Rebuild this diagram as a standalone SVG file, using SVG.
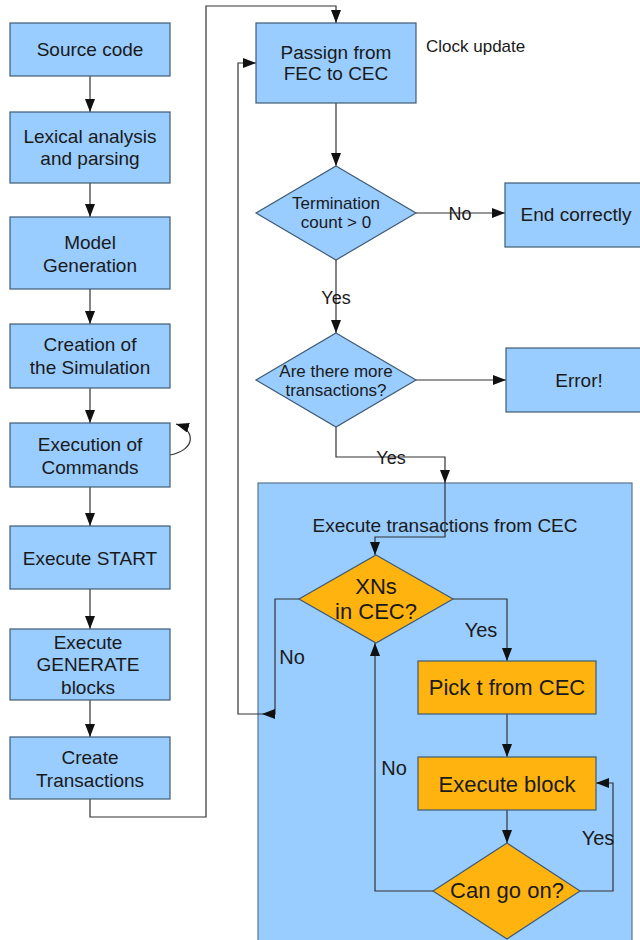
<svg xmlns="http://www.w3.org/2000/svg" width="640" height="940" viewBox="0 0 640 940">
<defs>
<marker id="arr" markerUnits="userSpaceOnUse" markerWidth="14" markerHeight="10" refX="13" refY="5" orient="auto">
<path d="M0,0 L13,5 L0,10 z" fill="#111"/>
</marker>
<style>
.b{fill:#99ccff;stroke:#3e5a74;stroke-width:1.2}
.o{fill:#ffb30f;stroke:#3e5a74;stroke-width:1.2}
.t{font-family:"Liberation Sans",Arial,sans-serif;font-size:19px;fill:#1a1a1a;text-anchor:middle}
.s{font-size:17px}
.m{font-size:17px}
.l{font-size:18px}
.k{font-size:20px}
.g{font-size:22px}
.c{fill:none;stroke:#333;stroke-width:1.2}
.a{marker-end:url(#arr)}
</style>
</defs>
<rect x="0" y="0" width="640" height="940" fill="#fff"/>
<g id="cec-region">
<rect x="258" y="483" width="374" height="470" fill="#99ccff" stroke="#5a7590" stroke-width="1.2"/>
<text class="t" x="445" y="532">Execute transactions from CEC</text>
</g>
<g id="connectors">
<line class="c a" x1="90" y1="76" x2="90" y2="112"/>
<line class="c a" x1="90" y1="183" x2="90" y2="217"/>
<line class="c a" x1="90" y1="289" x2="90" y2="324"/>
<line class="c a" x1="90" y1="388" x2="90" y2="423"/>
<line class="c a" x1="90" y1="487" x2="90" y2="526"/>
<line class="c a" x1="90" y1="589" x2="90" y2="629"/>
<line class="c a" x1="90" y1="700" x2="90" y2="737"/>
<polyline class="c a" points="90,799 90,817 206,817 206,6 336,6 336,23"/>
<path class="c a" d="M170,455 C196,450 196,430 176,424"/>
<line class="c a" x1="336" y1="103" x2="336" y2="166"/>
<line class="c a" x1="416" y1="213" x2="505" y2="213"/>
<line class="c a" x1="336" y1="260" x2="336" y2="333"/>
<line class="c a" x1="416" y1="380" x2="506" y2="380"/>
<polyline class="c a" points="336,427 336,457 445,457 445,483"/>
<polyline class="c a" points="445,483 445,537 375,537 375,555"/>
<polyline class="c a" points="453,599 507,599 507,661"/>
<polyline class="c a" points="299,599 275,599 275,714 262,714"/>
<polyline class="c a" points="262,714 238,714 238,63 256,63"/>
<line class="c a" x1="507" y1="714" x2="507" y2="757"/>
<line class="c a" x1="507" y1="810" x2="507" y2="843"/>
<polyline class="c a" points="580,891 613,891 613,783 596,783"/>
<polyline class="c a" points="433,891 375,891 375,643"/>
<text class="t l" x="460" y="220">No</text>
<text class="t l" x="336" y="304">Yes</text>
<text class="t l" x="391" y="464">Yes</text>
<text class="t k" x="481" y="637">Yes</text>
<text class="t k" x="292" y="664">No</text>
<text class="t k" x="394" y="775">No</text>
<text class="t k" x="598" y="845">Yes</text>
</g>
<g id="source-code"><rect class="b" x="10" y="23" width="160" height="53"/><text class="t" x="90" y="56">Source code</text></g>
<g id="lexical"><rect class="b" x="10" y="112" width="160" height="71"/><text class="t" x="90" y="143">Lexical analysis</text><text class="t" x="90" y="165">and parsing</text></g>
<g id="model"><rect class="b" x="10" y="217" width="160" height="72"/><text class="t" x="90" y="249">Model</text><text class="t" x="90" y="272">Generation</text></g>
<g id="creation"><rect class="b" x="10" y="324" width="160" height="64"/><text class="t" x="90" y="351">Creation of</text><text class="t" x="90" y="374">the Simulation</text></g>
<g id="execution"><rect class="b" x="10" y="423" width="160" height="64"/><text class="t" x="90" y="451">Execution of</text><text class="t" x="90" y="474">Commands</text></g>
<g id="start"><rect class="b" x="10" y="526" width="160" height="63"/><text class="t" x="90" y="565">Execute START</text></g>
<g id="generate"><rect class="b" x="10" y="629" width="160" height="71"/><text class="t" x="88" y="649">Execute</text><text class="t" x="88" y="671">GENERATE</text><text class="t" x="88" y="694">blocks</text></g>
<g id="create"><rect class="b" x="10" y="737" width="160" height="62"/><text class="t" x="90" y="764">Create</text><text class="t" x="90" y="787">Transactions</text></g>
<g id="passign"><rect class="b" x="256" y="23" width="160" height="80"/><text class="t" x="336" y="59">Passign from</text><text class="t" x="336" y="80">FEC to CEC</text></g>
<g id="clock-update"><text class="t s" x="426" y="52" style="text-anchor:start">Clock update</text></g>
<g id="termination"><polygon class="b" points="336,166 416,213 336,260 256,213"/><text class="t s" x="336" y="209">Termination</text><text class="t s" x="336" y="228">count &gt; 0</text></g>
<g id="end-correctly"><rect class="b" x="505" y="183" width="145" height="64"/><text class="t" x="576" y="221">End correctly</text></g>
<g id="more-transactions"><polygon class="b" points="336,333 416,380 336,427 256,380"/><text class="t m" x="336" y="377">Are there more</text><text class="t m" x="336" y="396">transactions?</text></g>
<g id="error"><rect class="b" x="506" y="348" width="140" height="64"/><text class="t" x="579" y="387">Error!</text></g>
<g id="xns"><polygon class="o" points="376,555 453,599 376,643 299,599"/><text class="t g" x="376" y="594">XNs</text><text class="t g" x="376" y="619">in CEC?</text></g>
<g id="pick"><rect class="o" x="418" y="661" width="178" height="53"/><text class="t g" x="507" y="695">Pick t from CEC</text></g>
<g id="execute-block"><rect class="o" x="418" y="757" width="178" height="53"/><text class="t g" x="507" y="792">Execute block</text></g>
<g id="can-go-on"><polygon class="o" points="507,843 580,891 507,939 433,891"/><text class="t g" x="507" y="898">Can go on?</text></g>
</svg>
